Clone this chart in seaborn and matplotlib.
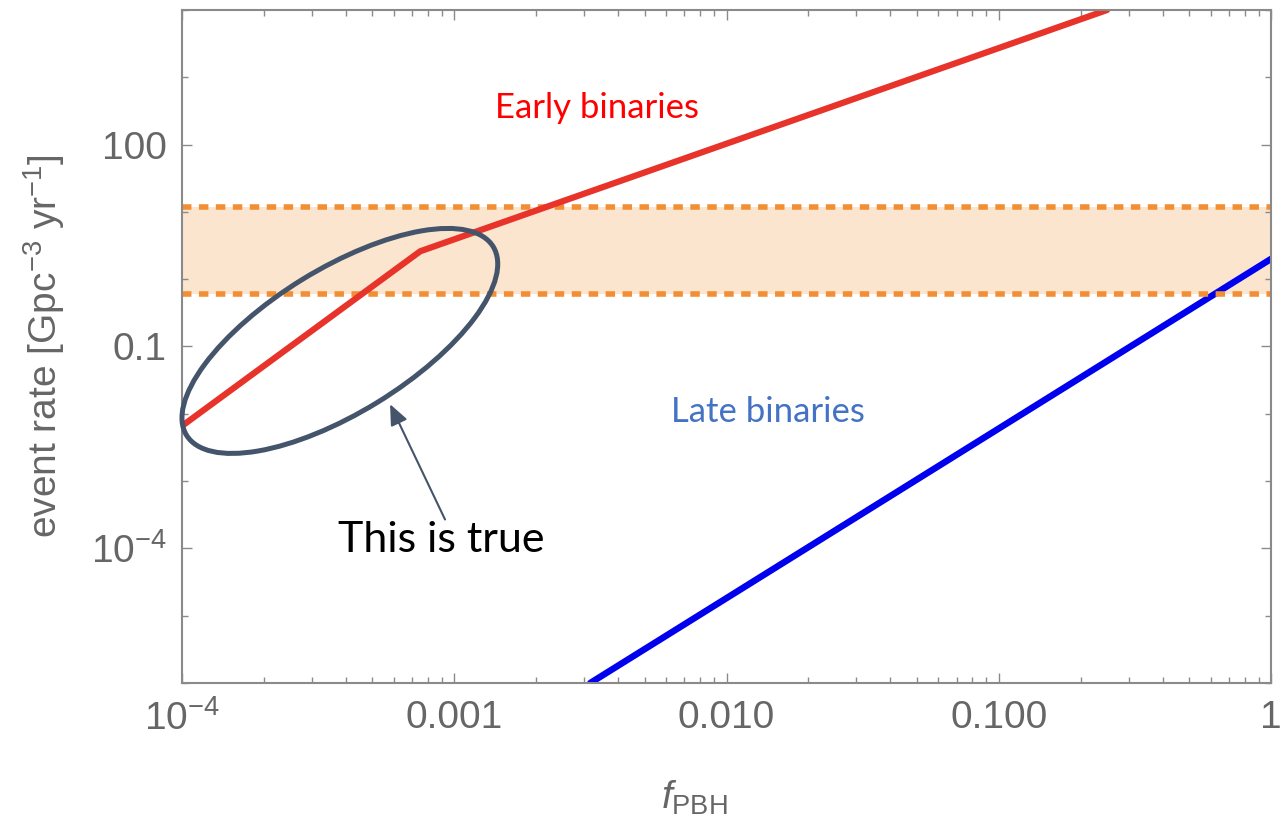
import numpy as np
import pandas as pd
import matplotlib
matplotlib.use("Agg")
import matplotlib.pyplot as plt
import matplotlib.transforms as mtransforms
from matplotlib.patches import Ellipse
from matplotlib.ticker import FixedLocator, FixedFormatter, NullFormatter
import seaborn as sns

# PBH merger rate versus PBH dark-matter fraction
f_early = [1.0e-4, 7.5e-4, 0.25]
rate_early = [6.6e-3, 2.6, 1.0e4]
f_late = [3.16e-3, 1.0]
rate_late = [1.0e-6, 2.0]

# observed merger-rate band
band_low = 0.6
band_high = 12.0

x_ticks = [1e-4, 1e-3, 1e-2, 1e-1, 1.0]
x_tick_labels = [r"$10^{-4}$", "0.001", "0.010", "0.100", "1"]
y_ticks = [1e-4, 1e-1, 1e2]
y_tick_labels = [r"$10^{-4}$", "0.1", "100"]
y_minor = [1e-6, 1e-5, 1e-3, 1e-2, 1.0, 10.0, 1e3, 1e4]

early = pd.DataFrame({"f": f_early, "rate": rate_early})
late = pd.DataFrame({"f": f_late, "rate": rate_late})

sns.set_theme(style="ticks")
plt.rcParams["font.family"] = ["Liberation Sans", "DejaVu Sans"]
plt.rcParams["mathtext.fontset"] = "custom"
plt.rcParams["mathtext.rm"] = "Liberation Sans"
plt.rcParams["mathtext.it"] = "Liberation Sans:italic"
plt.rcParams["mathtext.bf"] = "Liberation Sans:bold"

W, H = 1281, 819
fig = plt.figure(figsize=(W / 100, H / 100), dpi=100)
ax = fig.add_axes([182 / W, 1 - 683 / H, (1271 - 182) / W, (683 - 10) / H])
ax.set_xscale("log")
ax.set_yscale("log")
ax.set_xlim(1e-4, 1.0)
ax.set_ylim(1e-6, 1e4)

# observed band
ax.axhspan(band_low, band_high, color="#fbe5cf", lw=0, zorder=0)
for yv in (band_low, band_high):
    ax.axhline(yv, color="#f28e33", lw=4.0, ls=(0, (1.7, 1.35)), zorder=1)

sns.lineplot(data=late, x="f", y="rate", ax=ax, color="#0000ee", lw=4.7,
             sort=False, estimator=None, zorder=0.5)
sns.lineplot(data=early, x="f", y="rate", ax=ax, color="#e8332a", lw=4.5,
             sort=False, estimator=None, zorder=2)

# axis ticks
ax.xaxis.set_major_locator(FixedLocator(x_ticks))
ax.xaxis.set_major_formatter(FixedFormatter(x_tick_labels))
x_minor = [m * d for d in (1e-4, 1e-3, 1e-2, 1e-1) for m in range(2, 10)]
ax.xaxis.set_minor_locator(FixedLocator(x_minor))
ax.xaxis.set_minor_formatter(NullFormatter())
ax.yaxis.set_major_locator(FixedLocator(y_ticks))
ax.yaxis.set_major_formatter(FixedFormatter(y_tick_labels))
ax.yaxis.set_minor_locator(FixedLocator(y_minor))
ax.yaxis.set_minor_formatter(NullFormatter())

frame = "#8a8a8a"
ax.tick_params(which="both", direction="in", top=True, right=True,
               color=frame, width=1.0, labelcolor="#666666", labelsize=28)
ax.tick_params(which="major", length=7)
ax.tick_params(which="minor", length=4)
ax.tick_params(axis="x", which="major", pad=12)
ax.tick_params(axis="y", which="major", pad=11)
for sp in ax.spines.values():
    sp.set_color(frame)
    sp.set_linewidth(1.5)

ax.set_xlabel(r"$\mathit{f}_{\mathrm{PBH}}$", fontsize=28, color="#666666")
ax.xaxis.set_label_coords(0.47, -0.142)
ax.set_ylabel(r"event rate [Gpc$^{-3}$ yr$^{-1}$]", fontsize=28, color="#666666")
ax.yaxis.set_label_coords(-0.106, 0.5)

# curve labels
ax.text(3.34e-3, 347, "Early binaries", color="#ff0000", fontsize=25,
        family=["Lato", "DejaVu Sans"], ha="center", va="center")
ax.text(0.0142, 0.0106, "Late binaries", color="#4472c4", fontsize=25,
        family=["Lato", "DejaVu Sans"], ha="center", va="center")

# highlight ellipse around the steep early segment
trans = fig.dpi_scale_trans + mtransforms.ScaledTranslation(3.80e-4, 0.121, ax.transData)
ell = Ellipse((0, 0), width=3.60, height=1.44, angle=31.6, transform=trans,
              fill=False, edgecolor="#44546a", lw=3.6, zorder=3, clip_on=False)
ax.add_patch(ell)

ax.annotate("", xy=(5.81e-4, 0.0139), xytext=(9.25e-4, 2.69e-4),
            arrowprops=dict(arrowstyle="-|>,head_length=0.7,head_width=0.3",
                            color="#44546a", lw=1.5, mutation_scale=18,
                            shrinkA=0, shrinkB=0), zorder=3)
ax.text(8.93e-4, 1.35e-4, "This is true", color="black", fontsize=31,
        family=["Lato", "DejaVu Sans"], ha="center", va="center", zorder=3)

fig.savefig("out.png", dpi=100)
